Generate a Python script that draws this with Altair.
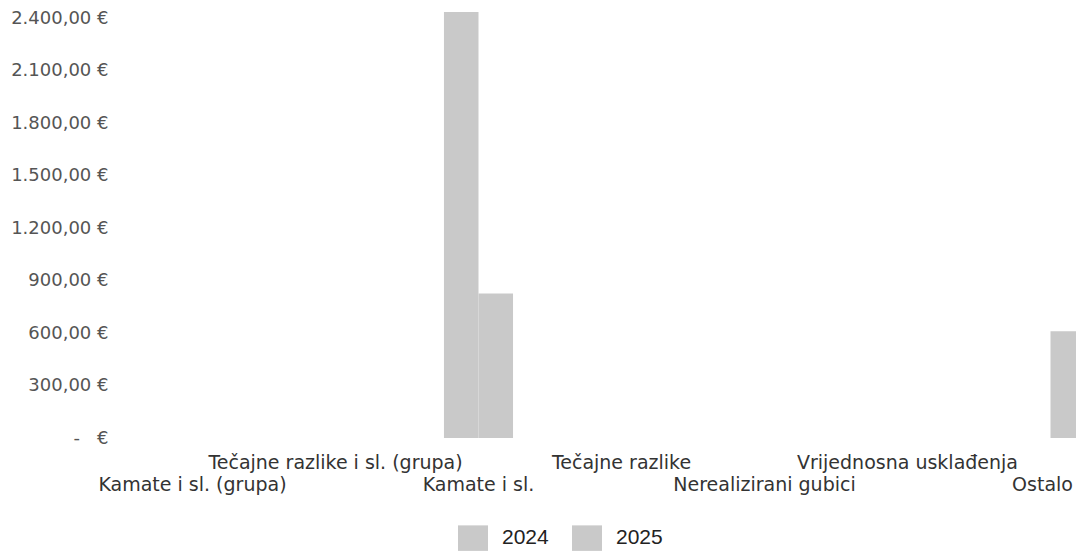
import altair as alt
import pandas as pd

categories = [
    "Kamate i sl. (grupa)",
    "Tečajne razlike i sl. (grupa)",
    "Kamate i sl.",
    "Tečajne razlike",
    "Nerealizirani gubici",
    "Vrijednosna usklađenja",
    "Ostalo",
]
upper_row = ["Tečajne razlike i sl. (grupa)", "Tečajne razlike", "Vrijednosna usklađenja"]
years = ["2024", "2025"]
values_2024 = [0, 0, 2435, 0, 0, 0, 0]
values_2025 = [0, 0, 826, 0, 0, 0, 610]
y_ticks = [0, 300, 600, 900, 1200, 1500, 1800, 2100, 2400]

rows = []
for c, a, b in zip(categories, values_2024, values_2025):
    rows.append({"kat": c, "god": years[0], "iznos": a})
    rows.append({"kat": c, "god": years[1], "iznos": b})
df = pd.DataFrame(rows)

upper_test = "indexof([" + ",".join("'" + u + "'" for u in upper_row) + "], datum.value) >= 0"
last_test = "datum.value == '" + categories[-1] + "'"

y_label_expr = (
    "datum.value == 0 ? '-\u00a0\u00a0\u00a0€' : "
    "replace(replace(replace(format(datum.value, ',.2f'), ',', '#'), '.', ','), '#', '.') + ' €'"
)

chart = (
    alt.Chart(df)
    .mark_bar(color="#c9c9c9", strokeWidth=0)
    .encode(
        x=alt.X(
            "kat:N",
            sort=categories,
            scale=alt.Scale(range=[0, 1001], paddingInner=0.517, paddingOuter=0.2585),
            axis=alt.Axis(
                title=None,
                domain=False,
                ticks=False,
                grid=False,
                labelAngle=0,
                labelAlign="center",
                labelBaseline="alphabetic",
                labelFont="DejaVu Sans",
                labelFontSize=19,
                labelColor="#333333",
                labelLimit=500,
                labelOverlap=False,
                labelPadding={"condition": {"test": upper_test, "value": 30}, "value": 52},
                labelOffset={"condition": {"test": last_test, "value": -8}, "value": 0},
            ),
        ),
        xOffset=alt.XOffset("god:N", sort=years),
        y=alt.Y(
            "iznos:Q",
            scale=alt.Scale(domain=[0, 2400], nice=False),
            axis=alt.Axis(
                title=None,
                domain=False,
                ticks=False,
                grid=False,
                values=y_ticks,
                labelExpr=y_label_expr,
                labelFont="DejaVu Sans",
                labelFontSize=18,
                labelColor="#555555",
                labelPadding=13,
            ),
        ),
        color=alt.Color(
            "god:N",
            sort=years,
            scale=alt.Scale(domain=years, range=["#c9c9c9", "#c9c9c9"]),
            legend=alt.Legend(
                title=None,
                orient="none",
                direction="horizontal",
                legendX=337,
                legendY=505,
                symbolType="M-1,-0.85H1V0.85H-1Z",
                symbolSize=900,
                symbolStrokeWidth=0,
                labelFont="Liberation Sans",
                labelFontSize=21,
                labelColor="#222222",
                labelOffset=14,
                columnPadding=23,
                padding=0,
            ),
        ),
    )
    .properties(
        width=955,
        height=420,
        autosize=alt.AutoSizeParams(type="none"),
        padding={"left": 113, "top": 10, "right": 0, "bottom": 115},
    )
    .configure(background="white")
    .configure_view(stroke=None, strokeWidth=0)
    .configure_axis(grid=False, domain=False)
)

chart.save("out.html", embed_options={"renderer": "svg", "actions": False})
